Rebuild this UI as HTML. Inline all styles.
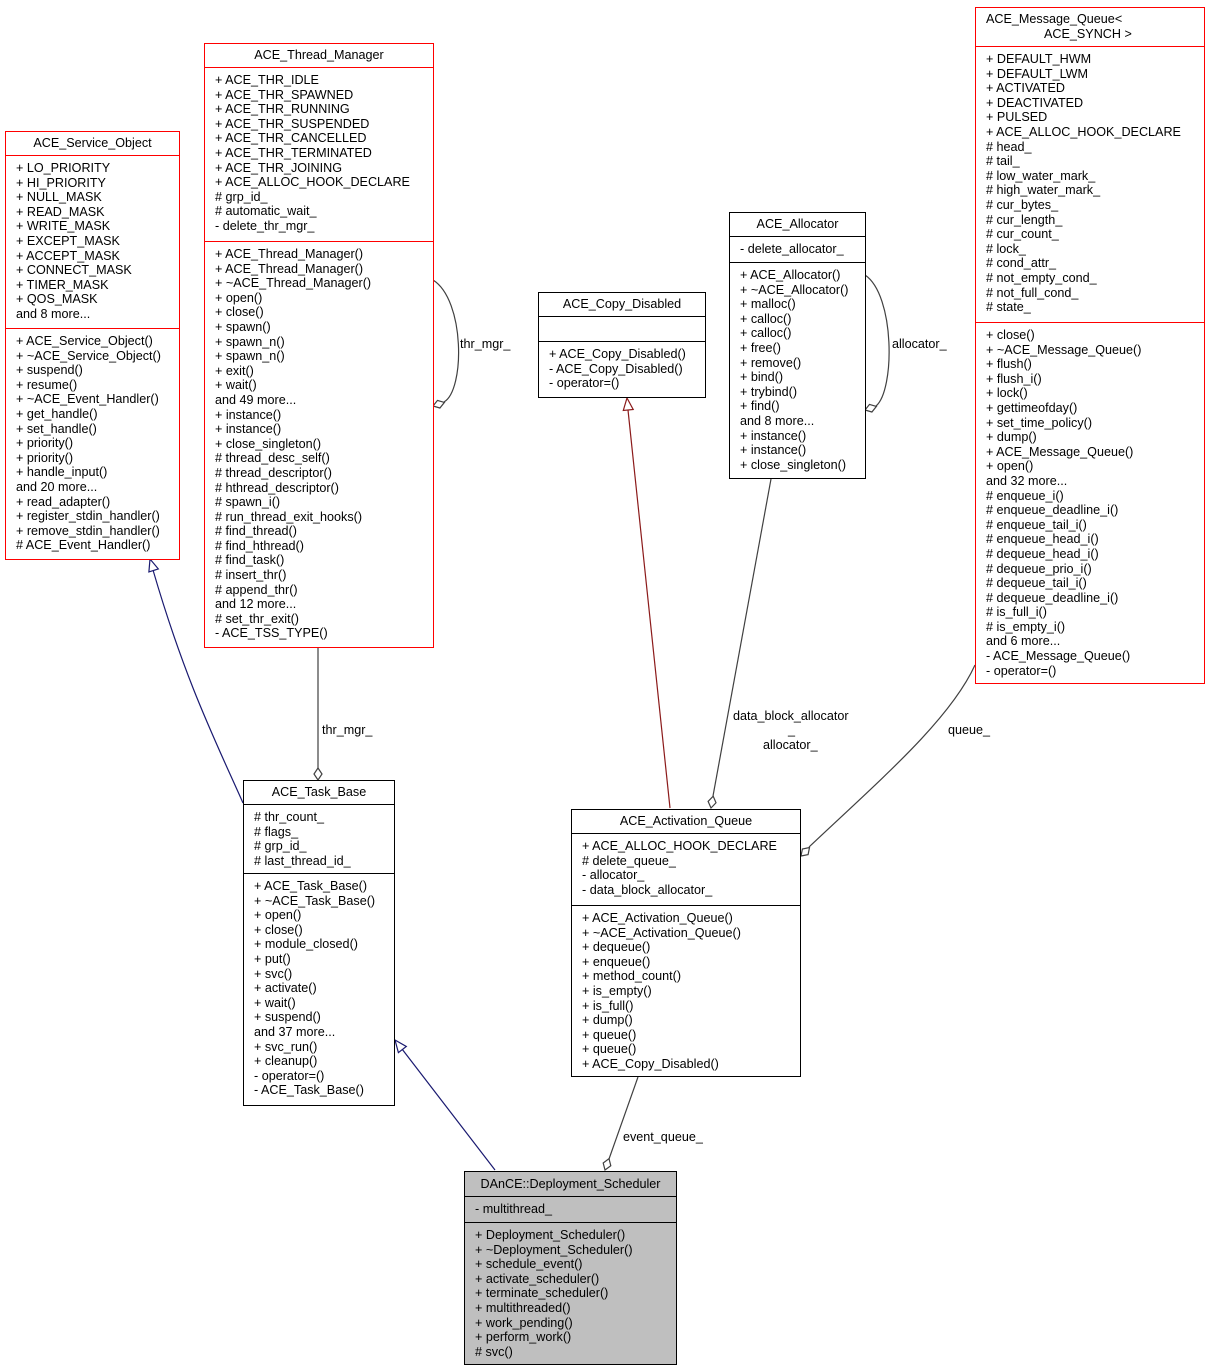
<!DOCTYPE html>
<html><head><meta charset="utf-8"><style>
body{margin:0;width:1209px;height:1371px;background:#fff;position:relative;overflow:hidden;font-family:"Liberation Sans",Helvetica,Arial,sans-serif;font-size:12.6px;color:#000}
.b{position:absolute;border:1px solid #f00;background:#fff;box-sizing:border-box}
.b.k{border-color:#000}
.b.g{border-color:#000;background:#bfbfbf}
.t{text-align:center;box-sizing:border-box;white-space:nowrap}
.s{border-top:1px solid;border-color:inherit;box-sizing:border-box;padding:5px 0 0 10px;line-height:14.6px;white-space:pre;overflow:hidden}
svg{position:absolute;left:0;top:0}
.l{position:absolute;white-space:nowrap;font-size:12.6px}
</style></head><body>
<svg width="1209" height="1371">
<g fill="none" stroke-width="1.2">
<path d="M243,803 C215,740 185,680 153,570" stroke="#191970"/>
<path d="M495,1170 L402,1049" stroke="#191970"/>
<path d="M670,808 L628,410" stroke="#8b1a1a"/>
<path d="M318,648 L318,768" stroke="#404040"/>
<path d="M433,280 C465,300 465,390 444,402" stroke="#404040"/>
<path d="M865,275 C895,295 895,390 876,406" stroke="#404040"/>
<path d="M771,479 L713,796" stroke="#404040"/>
<path d="M975,665 C950,720 880,780 809,847" stroke="#404040"/>
<path d="M638,1077 L609,1159" stroke="#404040"/>
</g>
<g fill="#fff" stroke-width="1.2">
<polygon points="150,559 158.3,568.9 148.9,571.9" stroke="#191970"/>
<polygon points="395,1040 406.3,1046.5 398.4,1052.6" stroke="#191970"/>
<polygon points="627,398 633.2,409.5 623.3,410.5" stroke="#8b1a1a"/>
<polygon points="318,780 322,774 318,768 314,774" stroke="#404040"/>
<polygon points="433,406 439.9,408 444.4,402.4 437.5,400.4" stroke="#404040"/>
<polygon points="865,410 871.9,412 876.4,406.4 869.5,404.4" stroke="#404040"/>
<polygon points="711,808 716,802.8 713.2,796.2 708.1,801.4" stroke="#404040"/>
<polygon points="801,856 808.1,854.6 809.5,847.5 802.4,849" stroke="#404040"/>
<polygon points="605,1170 610.8,1165.7 609,1158.7 603.2,1163" stroke="#404040"/>
</g>
</svg>
<div class="l" style="left:322px;top:723px">thr_mgr_</div>
<div class="l" style="left:460px;top:337px">thr_mgr_</div>
<div class="l" style="left:892px;top:337px">allocator_</div>
<div class="l" style="left:733px;top:709px">data_block_allocator</div>
<div class="l" style="left:788px;top:723px">_</div>
<div class="l" style="left:763px;top:738px">allocator_</div>
<div class="l" style="left:948px;top:723px">queue_</div>
<div class="l" style="left:623px;top:1130px">event_queue_</div>

<div class="b" style="left:5px;top:131px;width:175px;height:429px">
<div class="t" style="height:23px;line-height:23px">ACE_Service_Object</div>
<div class="s" style="height:173px">+ LO_PRIORITY
+ HI_PRIORITY
+ NULL_MASK
+ READ_MASK
+ WRITE_MASK
+ EXCEPT_MASK
+ ACCEPT_MASK
+ CONNECT_MASK
+ TIMER_MASK
+ QOS_MASK
and 8 more...</div>
<div class="s" style="height:231px">+ ACE_Service_Object()
+ ~ACE_Service_Object()
+ suspend()
+ resume()
+ ~ACE_Event_Handler()
+ get_handle()
+ set_handle()
+ priority()
+ priority()
+ handle_input()
and 20 more...
+ read_adapter()
+ register_stdin_handler()
+ remove_stdin_handler()
# ACE_Event_Handler()</div>
</div>

<div class="b" style="left:204px;top:43px;width:230px;height:605px">
<div class="t" style="height:23px;line-height:23px">ACE_Thread_Manager</div>
<div class="s" style="height:174px">+ ACE_THR_IDLE
+ ACE_THR_SPAWNED
+ ACE_THR_RUNNING
+ ACE_THR_SUSPENDED
+ ACE_THR_CANCELLED
+ ACE_THR_TERMINATED
+ ACE_THR_JOINING
+ ACE_ALLOC_HOOK_DECLARE
# grp_id_
# automatic_wait_
- delete_thr_mgr_</div>
<div class="s" style="height:406px">+ ACE_Thread_Manager()
+ ACE_Thread_Manager()
+ ~ACE_Thread_Manager()
+ open()
+ close()
+ spawn()
+ spawn_n()
+ spawn_n()
+ exit()
+ wait()
and 49 more...
+ instance()
+ instance()
+ close_singleton()
# thread_desc_self()
# thread_descriptor()
# hthread_descriptor()
# spawn_i()
# run_thread_exit_hooks()
# find_thread()
# find_hthread()
# find_task()
# insert_thr()
# append_thr()
and 12 more...
# set_thr_exit()
- ACE_TSS_TYPE()</div>
</div>

<div class="b k" style="left:538px;top:292px;width:168px;height:106px">
<div class="t" style="height:23px;line-height:23px">ACE_Copy_Disabled</div>
<div class="s" style="height:25px"></div>
<div class="s" style="height:56px">+ ACE_Copy_Disabled()
- ACE_Copy_Disabled()
- operator=()</div>
</div>

<div class="b k" style="left:729px;top:212px;width:137px;height:267px">
<div class="t" style="height:23px;line-height:23px">ACE_Allocator</div>
<div class="s" style="height:26px">- delete_allocator_</div>
<div class="s" style="height:216px">+ ACE_Allocator()
+ ~ACE_Allocator()
+ malloc()
+ calloc()
+ calloc()
+ free()
+ remove()
+ bind()
+ trybind()
+ find()
and 8 more...
+ instance()
+ instance()
+ close_singleton()</div>
</div>

<div class="b" style="left:975px;top:7px;width:230px;height:677px">
<div class="t" style="height:38px;line-height:14.6px;padding-top:4px;text-align:left;padding-left:10px">ACE_Message_Queue&lt;<br><span style="padding-left:58px">ACE_SYNCH &gt;</span></div>
<div class="s" style="height:276px">+ DEFAULT_HWM
+ DEFAULT_LWM
+ ACTIVATED
+ DEACTIVATED
+ PULSED
+ ACE_ALLOC_HOOK_DECLARE
# head_
# tail_
# low_water_mark_
# high_water_mark_
# cur_bytes_
# cur_length_
# cur_count_
# lock_
# cond_attr_
# not_empty_cond_
# not_full_cond_
# state_</div>
<div class="s" style="height:361px">+ close()
+ ~ACE_Message_Queue()
+ flush()
+ flush_i()
+ lock()
+ gettimeofday()
+ set_time_policy()
+ dump()
+ ACE_Message_Queue()
+ open()
and 32 more...
# enqueue_i()
# enqueue_deadline_i()
# enqueue_tail_i()
# enqueue_head_i()
# dequeue_head_i()
# dequeue_prio_i()
# dequeue_tail_i()
# dequeue_deadline_i()
# is_full_i()
# is_empty_i()
and 6 more...
- ACE_Message_Queue()
- operator=()</div>
</div>

<div class="b k" style="left:243px;top:780px;width:152px;height:326px">
<div class="t" style="height:23px;line-height:23px">ACE_Task_Base</div>
<div class="s" style="height:69px"># thr_count_
# flags_
# grp_id_
# last_thread_id_</div>
<div class="s" style="height:232px">+ ACE_Task_Base()
+ ~ACE_Task_Base()
+ open()
+ close()
+ module_closed()
+ put()
+ svc()
+ activate()
+ wait()
+ suspend()
and 37 more...
+ svc_run()
+ cleanup()
- operator=()
- ACE_Task_Base()</div>
</div>

<div class="b k" style="left:571px;top:809px;width:230px;height:268px">
<div class="t" style="height:23px;line-height:23px">ACE_Activation_Queue</div>
<div class="s" style="height:72px">+ ACE_ALLOC_HOOK_DECLARE
# delete_queue_
- allocator_
- data_block_allocator_</div>
<div class="s" style="height:171px">+ ACE_Activation_Queue()
+ ~ACE_Activation_Queue()
+ dequeue()
+ enqueue()
+ method_count()
+ is_empty()
+ is_full()
+ dump()
+ queue()
+ queue()
+ ACE_Copy_Disabled()</div>
</div>

<div class="b g" style="left:464px;top:1171px;width:213px;height:194px">
<div class="t" style="height:24px;line-height:24px">DAnCE::Deployment_Scheduler</div>
<div class="s" style="height:26px">- multithread_</div>
<div class="s" style="height:142px">+ Deployment_Scheduler()
+ ~Deployment_Scheduler()
+ schedule_event()
+ activate_scheduler()
+ terminate_scheduler()
+ multithreaded()
+ work_pending()
+ perform_work()
# svc()</div>
</div>
</body></html>
